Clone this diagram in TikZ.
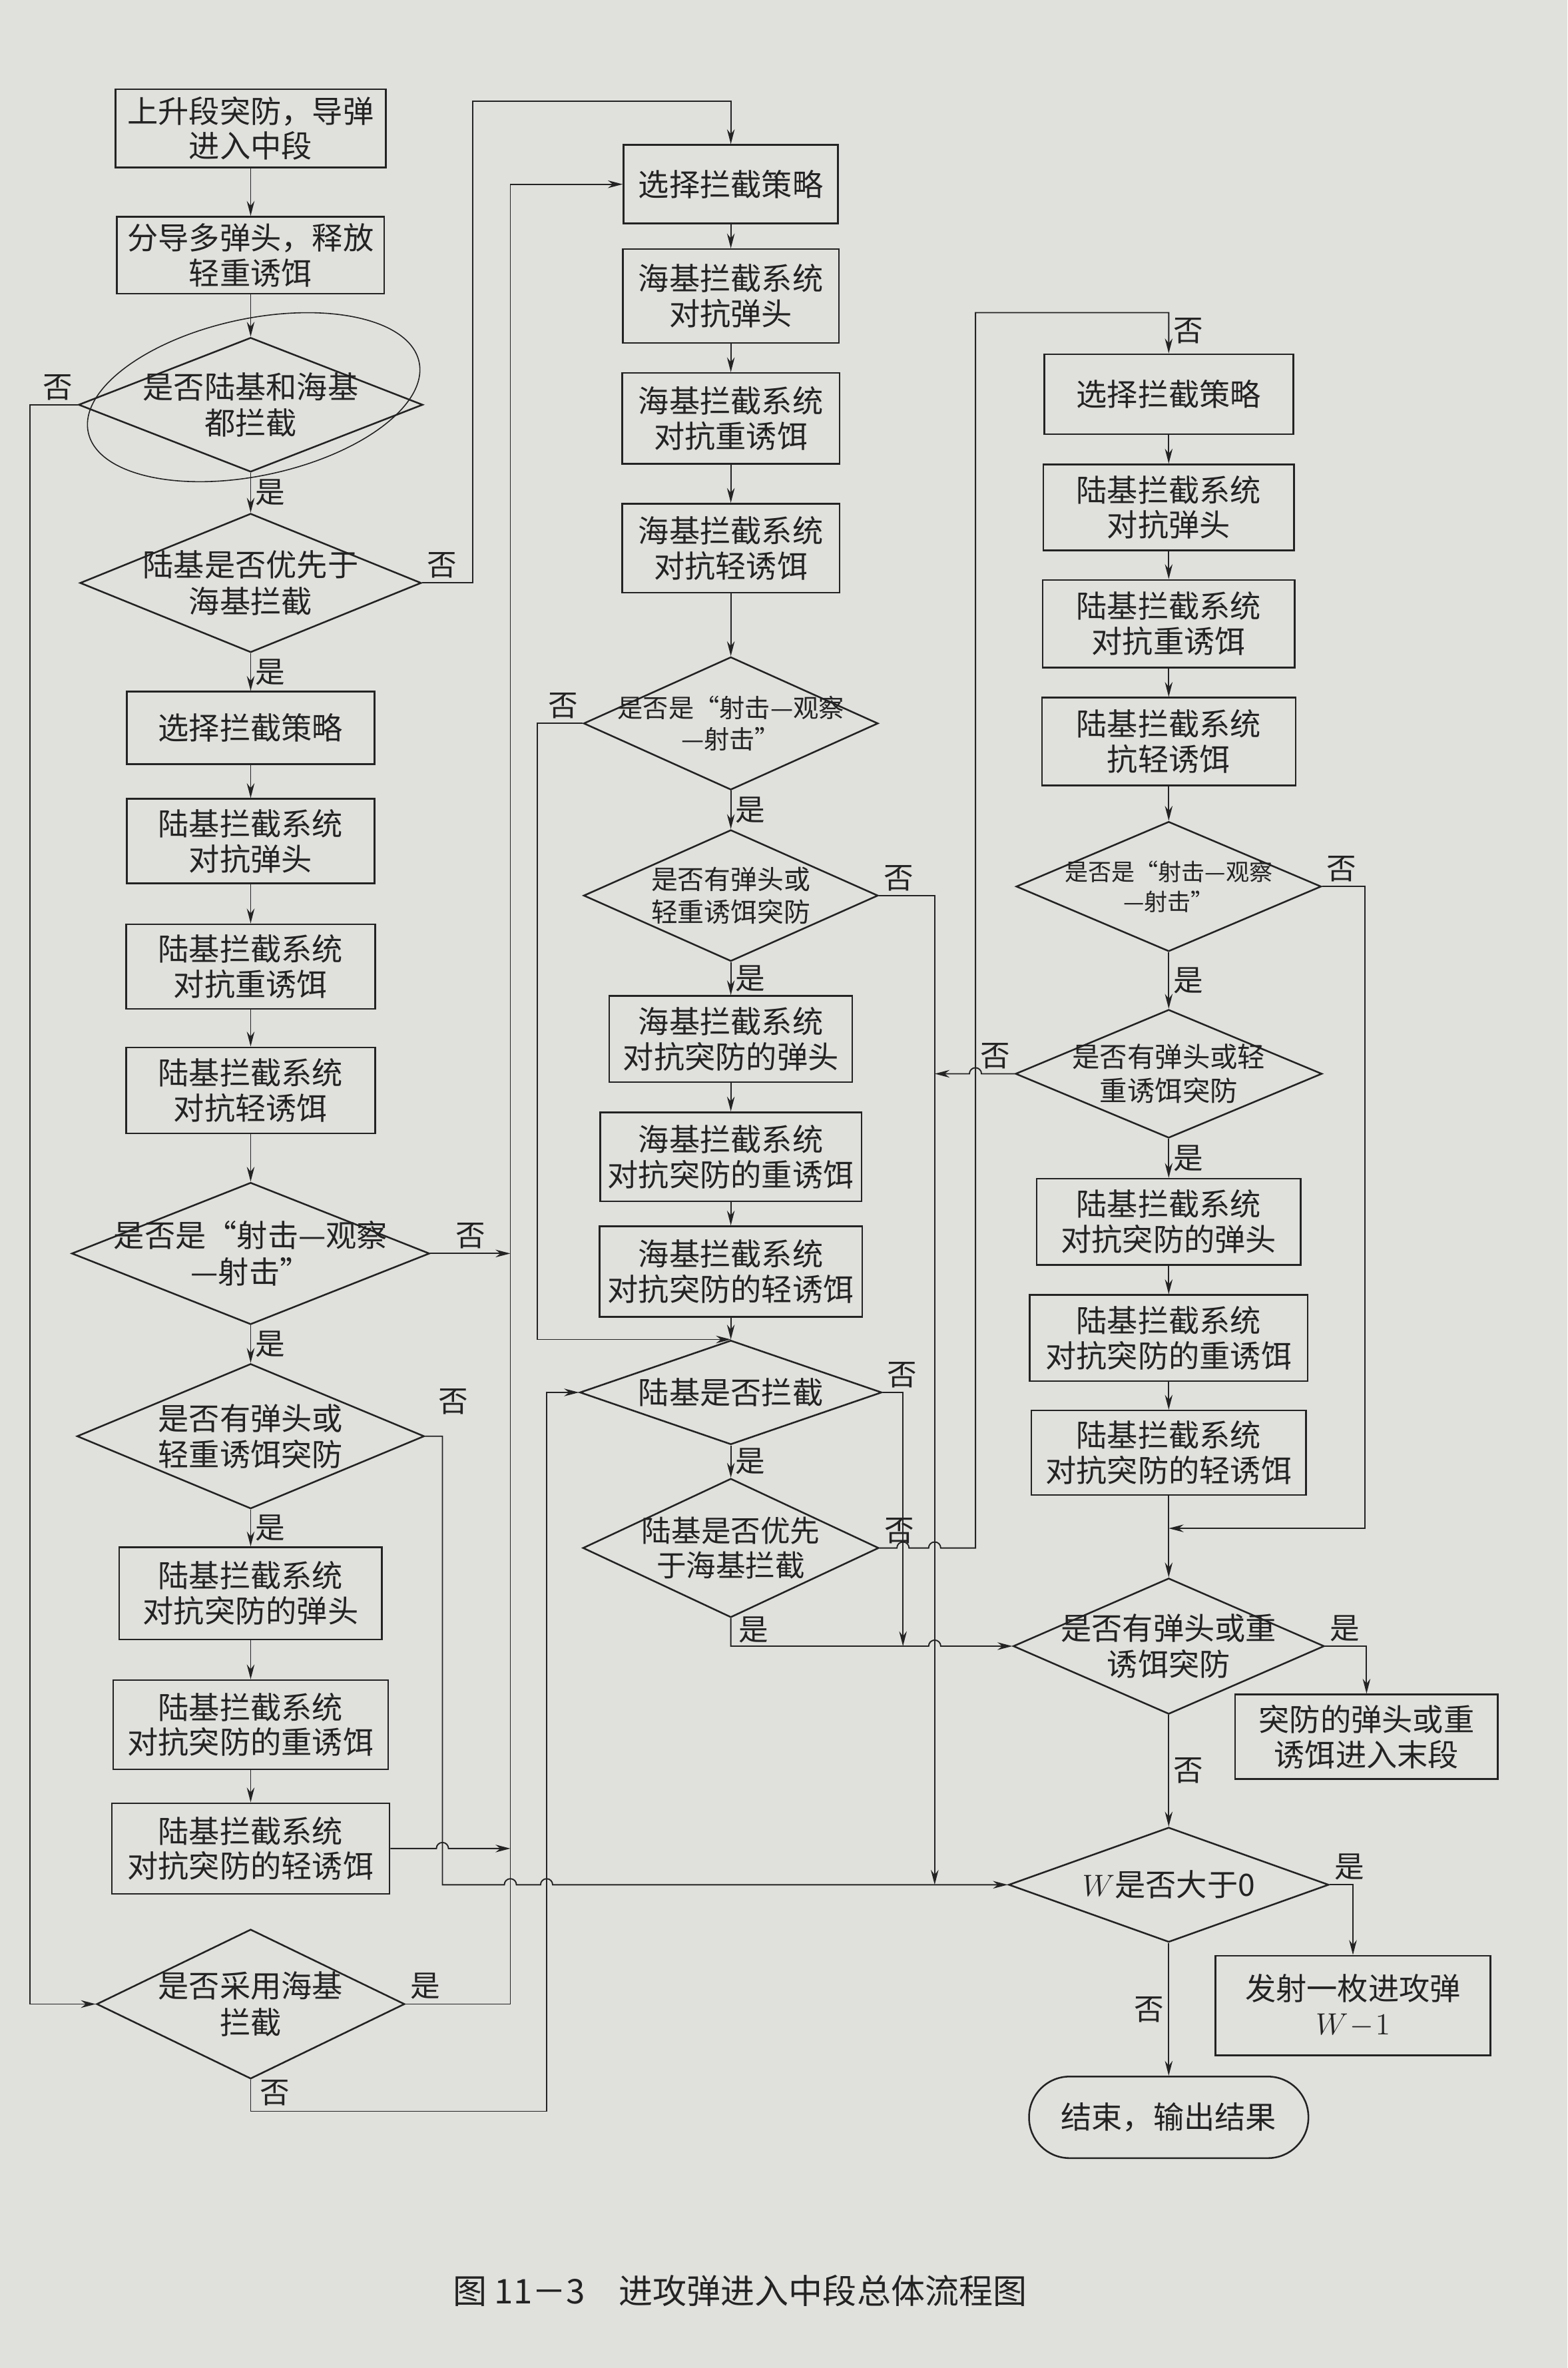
\documentclass[tikz,border=0pt]{standalone}
\usepackage{fontspec}
\setmainfont{Noto Sans CJK SC}
\usetikzlibrary{shapes.geometric,arrows.meta}

\definecolor{paper}{RGB}{224,224,221}
\definecolor{ink}{RGB}{35,35,35}

\tikzset{
    sz/.style 2 args={minimum width=#1*0.025cm,minimum height=#2*0.025cm},
    box/.style={draw=ink,line width=0.8pt,align=center,inner sep=1pt,
        font=\fontsize{14.5}{16.5}\selectfont},
    dec/.style={diamond,draw=ink,line width=0.8pt,align=center,inner sep=-3cm,
        font=\fontsize{14.5}{17}\selectfont},
    lbl/.style={font=\fontsize{14}{16}\selectfont,inner sep=2pt},
    arr/.style={draw=ink,line width=0.6pt,-{Stealth[length=7pt,width=3.6pt]}}
}

\begin{document}
\begin{tikzpicture}[x=0.025cm,y=-0.025cm,every node/.style={text=ink}]

    % page
    \fill[paper] (0,0) rectangle (1038,1568);
    \useasboundingbox (0,0) rectangle (1038,1568);

    % left column
    \node[box,sz={179}{52}] (l1) at (166,85) {上升段突防，导弹\\进入中段};
    \node[box,sz={177}{51}] (l2) at (166,169) {分导多弹头，释放\\轻重诱饵};
    \node[dec,sz={228}{89}] (ld1) at (166,268) {是否陆基和海基\\都拦截};
    \node[dec,sz={226}{92}] (ld2) at (166,386) {陆基是否优先于\\海基拦截};
    \node[box,sz={164}{48}] (l3) at (166,482) {选择拦截策略};
    \node[box,sz={164}{56}] (l4) at (166,557) {陆基拦截系统\\对抗弹头};
    \node[box,sz={165}{56}] (l5) at (166,640) {陆基拦截系统\\对抗重诱饵};
    \node[box,sz={165}{57}] (l6) at (166,722) {陆基拦截系统\\对抗轻诱饵};
    \node[dec,sz={237}{94}] (ld3) at (166,830) {是否是“射击—观察\\—射击”};
    \node[dec,sz={230}{96}] (ld4) at (166,951) {是否有弹头或\\轻重诱饵突防};
    \node[box,sz={174}{61}] (l7) at (166,1055) {陆基拦截系统\\对抗突防的弹头};
    \node[box,sz={182}{59}] (l8) at (166,1142) {陆基拦截系统\\对抗突防的重诱饵};
    \node[box,sz={184}{60}] (l9) at (166,1224) {陆基拦截系统\\对抗突防的轻诱饵};
    \node[dec,sz={204}{99}] (ld8) at (166,1327) {是否采用海基\\拦截};

    % hand-drawn loop round the first test
    \draw[ink,line width=0.5pt,rotate around={12:(168,263)}] (168,263) ellipse [x radius=112,y radius=52];

    % middle column
    \node[box,sz={142}{52}] (m1) at (484,122) {选择拦截策略};
    \node[box,sz={143}{62}] (m2) at (484,196) {海基拦截系统\\对抗弹头};
    \node[box,sz={144}{60}] (m3) at (484,277) {海基拦截系统\\对抗重诱饵};
    \node[box,sz={144}{59}] (m4) at (484,363) {海基拦截系统\\对抗轻诱饵};
    \node[dec,sz={195}{88},font=\fontsize{12}{15}\selectfont] (md1) at (484,479) {是否是“射击—观察\\—射击”};
    \node[dec,sz={195}{87},font=\fontsize{12.5}{15.5}\selectfont] (md2) at (484,593) {是否有弹头或\\轻重诱饵突防};
    \node[box,sz={161}{57}] (m5) at (484,688) {海基拦截系统\\对抗突防的弹头};
    \node[box,sz={173}{59}] (m6) at (484,766) {海基拦截系统\\对抗突防的重诱饵};
    \node[box,sz={174}{60}] (m7) at (484,842) {海基拦截系统\\对抗突防的轻诱饵};
    \node[dec,sz={200}{69}] (md3) at (484,922) {陆基是否拦截};
    \node[dec,sz={196}{92},font=\fontsize{14}{16.5}\selectfont] (md4) at (484,1025) {陆基是否优先\\于海基拦截};

    % right column
    \node[box,sz={165}{53}] (r1) at (774,261) {选择拦截策略};
    \node[box,sz={166}{57}] (r2) at (774,336) {陆基拦截系统\\对抗弹头};
    \node[box,sz={167}{58}] (r3) at (774,413) {陆基拦截系统\\对抗重诱饵};
    \node[box,sz={168}{58}] (r4) at (774,491) {陆基拦截系统\\抗轻诱饵};
    \node[dec,sz={202}{86},font=\fontsize{11}{14}\selectfont] (rd1) at (774,587) {是否是“射击—观察\\—射击”};
    \node[dec,sz={203}{85},font=\fontsize{13}{16}\selectfont] (rd2) at (774,711) {是否有弹头或轻\\重诱饵突防};
    \node[box,sz={175}{57}] (r5) at (774,809) {陆基拦截系统\\对抗突防的弹头};
    \node[box,sz={184}{57}] (r6) at (774,886) {陆基拦截系统\\对抗突防的重诱饵};
    \node[box,sz={182}{56}] (r7) at (774,962) {陆基拦截系统\\对抗突防的轻诱饵};
    \node[dec,sz={206}{90}] (rd3) at (774,1090) {是否有弹头或重\\诱饵突防};
    \node[box,sz={174}{56}] (r8) at (905,1150) {突防的弹头或重\\诱饵进入末段};
    \node[dec,sz={212}{76}] (rd4) at (774,1248) {$W$是否大于0};
    \node[box,sz={182}{66}] (r9) at (896,1328) {发射一枚进攻弹\\$W\!-\!1$};
    \node[box,sz={185}{54},rounded corners=0.67cm] (end) at (774,1402) {结束，输出结果};

    % left column links
    \draw[arr] (l1) -- (l2);
    \draw[arr] (l2) -- (ld1);
    \draw[arr] (ld1) -- node[lbl,right] (t1) {是} (ld2);
    \draw[arr] (ld2) -- node[lbl,right] (t2) {是} (l3);
    \draw[arr] (l3) -- (l4);
    \draw[arr] (l4) -- (l5);
    \draw[arr] (l5) -- (l6);
    \draw[arr] (l6) -- (ld3);
    \draw[arr] (ld3) -- node[lbl,right] (t3) {是} (ld4);
    \draw[arr] (ld4) -- node[lbl,right] (t4) {是} (l7);
    \draw[arr] (l7) -- (l8);
    \draw[arr] (l8) -- (l9);

    % middle column links
    \draw[arr] (m1) -- (m2);
    \draw[arr] (m2) -- (m3);
    \draw[arr] (m3) -- (m4);
    \draw[arr] (m4) -- (md1);
    \draw[arr] (md1) -- node[lbl,right] (t5) {是} (md2);
    \draw[arr] (md2) -- node[lbl,right] (t6) {是} (m5);
    \draw[arr] (m5) -- (m6);
    \draw[arr] (m6) -- (m7);
    \draw[arr] (m7) -- (md3);
    \draw[arr] (md3) -- node[lbl,right] (t7) {是} (md4);

    % right column links
    \draw[arr] (r1) -- (r2);
    \draw[arr] (r2) -- (r3);
    \draw[arr] (r3) -- (r4);
    \draw[arr] (r4) -- (rd1);
    \draw[arr] (rd1) -- node[lbl,right] (t8) {是} (rd2);
    \draw[arr] (rd2) -- node[lbl,right] (t9) {是} (r5);
    \draw[arr] (r5) -- (r6);
    \draw[arr] (r6) -- (r7);
    \draw[arr] (r7) -- (rd3);
    \draw[arr] (rd3) -- node[lbl,right] (t10) {否} (rd4);
    \draw[arr] (rd4) -- node[lbl,left] (t11) {否} (end);
    \draw[arr] (rd3.east) -| (r8.north);
    \draw[arr] (rd4.east) -| (r9.north);

    % branches
    \draw[arr] (ld1.west) -| (20,1327) -- (ld8.west);
    \draw[arr] (ld2.east) -| (313,67) -| (m1.north);
    \draw[arr] (ld8.east) -| (338,122) -- (m1.west);
    \draw[arr] (ld3.east) -- node[lbl,above] (f3) {否} (338,830);
    \draw[arr] (l9.east) -- (289,1224) arc(180:360:4) -- (338,1224);
    \draw[arr] (ld4.east) -| (293,1248) -- (334,1248) arc(180:360:4)
        -- (358,1248) arc(180:360:4) -- (rd4.west);
    \draw[arr] (ld8.south) |- (362,1398) |- (md3.west);
    \draw[arr] (md1.west) -- (356,479) |- (md3.north);
    \draw[arr] (md2.east) -| (619,1248);
    \draw[arr] (md3.east) -| (598,1090);
    \draw[arr] (md4.east) -- (594,1025) arc(180:360:4) -- (615,1025) arc(180:360:4)
        -- (646,1025) -- (646,207) -| (r1.north);
    \draw[arr] (md4.south) |- (615,1090) arc(180:360:4) -- (rd3.west);
    \draw[arr] (rd1.east) -| (904,1012) -- (774,1012);
    \draw[arr] (rd2.west) -- (650,711) arc(0:-180:4) -- (619,711);

    % branch labels
    \node[lbl,above left] (f1) at (ld1.west) {否};
    \node[lbl,above right] (f2) at (ld2.east) {否};
    \node[lbl] (f4) at (300,928) {否};
    \node[lbl,above right] (y8) at (ld8.east) {是};
    \node[lbl] (f8) at (182,1386) {否};
    \node[lbl,above left] (f5) at (md1.west) {否};
    \node[lbl,above right] (f6) at (md2.east) {否};
    \node[lbl,above right] (f7) at (md3.east) {否};
    \node[lbl,above right] (f9) at (md4.east) {否};
    \node[lbl] (y9) at (499,1079) {是};
    \node[lbl,right] (f10) at (774,219) {否};
    \node[lbl,above right] (f11) at (rd1.east) {否};
    \node[lbl,above left] (f12) at (rd2.west) {否};
    \node[lbl,above right] (y10) at (rd3.east) {是};
    \node[lbl,above right] (y11) at (rd4.east) {是};

    % caption
    \node[font=\fontsize{16}{18}\selectfont] (cap) at (490,1517) {图 11－3\quad 进攻弹进入中段总体流程图};
\end{tikzpicture}
\end{document}
